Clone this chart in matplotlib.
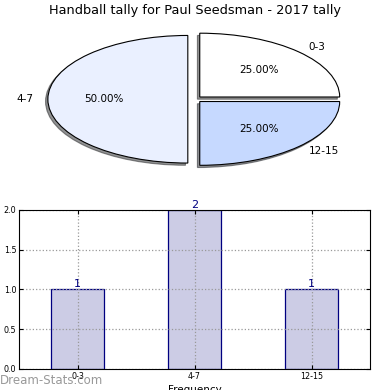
import matplotlib
matplotlib.use('Agg')
import matplotlib.pyplot as plt

# data
categories = ['0-3', '4-7', '12-15']
counts = [1, 2, 1]
pie_colors = ['#ffffff', '#eaf0ff', '#c6d9ff']
title = 'Handball tally for Paul Seedsman - 2017 tally'

fig = plt.figure(figsize=(3.9, 3.9), dpi=100)

# pie on top, squashed into an ellipse
ax1 = fig.add_axes([0.051, 0.541, 0.897, 0.409])
wedges, texts, autotexts = ax1.pie(counts, labels=categories, colors=pie_colors,
                                   explode=[0.05, 0.05, 0.05], autopct='%1.2f%%',
                                   startangle=0,
                                   shadow={'ox': -0.012, 'oy': -0.025, 'shade': 0.85},
                                   wedgeprops={'edgecolor': 'black', 'linewidth': 0.8},
                                   textprops={'fontsize': 7.5})
ax1.set_aspect('auto')
ax1.set_xlim(-1.25, 1.25)
ax1.set_ylim(-1.25, 1.25)
fig.text(0.5, 0.972, title, ha='center', va='center', fontsize=9.3)

# bar chart below
ax2 = fig.add_axes([0.049, 0.054, 0.90, 0.408])
x = list(range(len(categories)))
bars = ax2.bar(x, counts, width=0.45, color='#ccccE5', edgecolor='#000080', linewidth=0.9)
for xi, c in zip(x, counts):
    ax2.text(xi, c, str(c), ha='center', va='bottom', color='#000080', fontsize=8)
ax2.set_xlim(-0.5, 2.5)
ax2.set_ylim(0, 2.0)
ax2.set_yticks([0.0, 0.5, 1.0, 1.5, 2.0])
ax2.set_xticks(x)
ax2.set_xticklabels(categories)
ax2.tick_params(labelsize=5.8, direction='in', top=True, right=True, length=3, pad=2)
ax2.grid(True, linestyle=':', color='#999999', linewidth=0.9)
ax2.set_axisbelow(False)
for sp in ax2.spines.values():
    sp.set_zorder(4)
ax2.set_xlabel('Frequency', fontsize=7.5, labelpad=3)

fig.text(0.0, 0.025, 'Dream-Stats.com', color='#999999', fontsize=8.5, ha='left', va='center')

fig.savefig('out.png', dpi=100)
